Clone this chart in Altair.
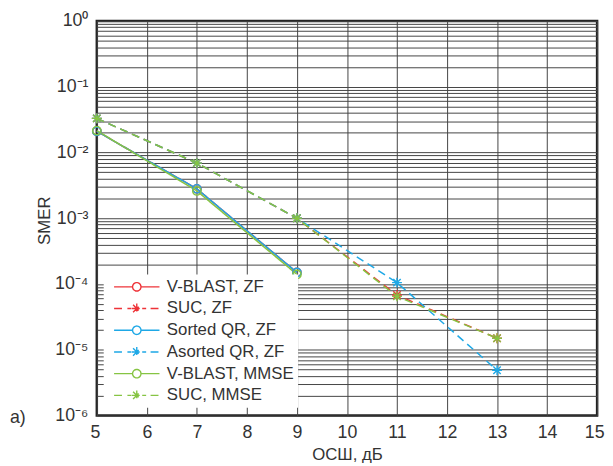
import altair as alt
import pandas as pd

FONT = "Liberation Sans"
TXT = "#333333"

snr = [5, 7, 9, 11, 13]
series_names = ["V-BLAST, ZF", "SUC, ZF", "Sorted QR, ZF", "Asorted QR, ZF",
                "V-BLAST, MMSE", "SUC, MMSE"]
vblast_zf = [0.021, 0.0028, 1.5e-4]
suc_zf = [0.033, 0.0069, 1.0e-3, 6.8e-5, 1.5e-5]
sorted_qr_zf = [0.021, 0.0028, 1.5e-4]
asorted_qr_zf = [0.033, 0.0069, 1.0e-3, 1.05e-4, 4.9e-6]
vblast_mmse = [0.0215, 0.0026, 1.4e-4]
suc_mmse = [0.033, 0.0069, 1.0e-3, 6.5e-5, 1.5e-5]
series_values = [vblast_zf, suc_zf, sorted_qr_zf, asorted_qr_zf, vblast_mmse, suc_mmse]

colors = ["#ee3338", "#ee3338", "#1ea8e6", "#1ea8e6", "#86c443", "#86c443"]
dashes = [[1, 0], [8, 5], [1, 0], [8, 5], [1, 0], [8, 5]]
x_ticks = list(range(5, 16))
y_ticks = [m * 10.0 ** e for e in range(-6, 0) for m in range(1, 10)] + [1.0]
decade_labels = ["10⁰", "10⁻¹", "10⁻²", "10⁻³", "10⁻⁴", "10⁻⁵", "10⁻⁶"]

rows = []
for name, vals in zip(series_names, series_values):
    for x, v in zip(snr, vals):
        rows.append({"series": name, "snr": x, "smer": v})
df = pd.DataFrame(rows)

circle_p = "M0.85,0A0.85,0.85,0,1,1,-0.85,0A0.85,0.85,0,1,1,0.85,0Z"
star_p = "M-1,0L1,0M0,-1L0,1M-0.75,-0.75L0.75,0.75M-0.75,0.75L0.75,-0.75"
leg_circle = "M-4.6,0L-0.85,0M0.85,0L4.6,0" + circle_p
leg_star = "M-4.6,0L-2.8,0M-1.9,0L-1.1,0M1.1,0L1.9,0M2.8,0L4.6,0" + star_p
shape_expr = ("indexof(['SUC, ZF','Asorted QR, ZF','SUC, MMSE'], datum.value) >= 0 ? '"
              + leg_star + "' : '" + leg_circle + "'")

label_expr = ("abs(log(datum.value)/LN10 - round(log(datum.value)/LN10)) < 0.001 ? "
              + str(decade_labels) + "[-round(log(datum.value)/LN10)] : ''")

legend = alt.Legend(
    title=None, orient="none", legendX=7, legendY=257, fillColor="white",
    padding=4, labelFontSize=17, labelFont=FONT, labelColor=TXT,
    symbolSize=100, symbolStrokeWidth=1.4, symbolOffset=21, labelOffset=22,
    rowPadding=4, symbolType=alt.ExprRef(expr=shape_expr), symbolOpacity=1,
)

color = alt.Color("series:N", scale=alt.Scale(domain=series_names, range=colors),
                  sort=series_names, legend=legend)
xenc = alt.X("snr:Q", scale=alt.Scale(domain=[5, 15], nice=False),
             axis=alt.Axis(values=x_ticks, format="d", title="ОСШ, дБ", grid=True,
                           gridColor="#444444", gridWidth=1, ticks=False, domain=False,
                           labelFontSize=18, labelFont=FONT, labelColor=TXT, labelPadding=8,
                           titleFontSize=17, titleFont=FONT, titleFontWeight="normal",
                           titleColor=TXT, titleY=39, titleBaseline="middle",
                           labelFlush=True, labelFlushOffset=7))
yenc = alt.Y("smer:Q", scale=alt.Scale(type="log", domain=[1e-6, 1]),
             axis=alt.Axis(values=y_ticks, labelExpr=label_expr, labelOverlap=False,
                           title="SMER", grid=True, gridColor="#444444", gridWidth=1,
                           ticks=False, domain=False, labelFontSize=18, labelFont=FONT,
                           labelColor=TXT, labelPadding=9, titleFontSize=17, titleFont=FONT,
                           titleFontWeight="normal", titleColor=TXT, titleX=-53, titleY=202,
                           titleBaseline="middle", titleAlign="center", labelFlush=False))

base = alt.Chart(df)
lines = base.mark_line(strokeWidth=1.5).encode(
    x=xenc, y=yenc, color=color,
    strokeDash=alt.StrokeDash("series:N", scale=alt.Scale(domain=series_names, range=dashes),
                              legend=None),
    detail="series:N",
)
pts_circle = base.transform_filter(
    alt.FieldOneOfPredicate(field="series", oneOf=["V-BLAST, ZF", "Sorted QR, ZF", "V-BLAST, MMSE"])
).mark_point(filled=False, size=100, strokeWidth=1.4, shape=circle_p, opacity=1).encode(
    x=xenc, y=yenc, color=color)
pts_star = base.transform_filter(
    alt.FieldOneOfPredicate(field="series", oneOf=["SUC, ZF", "SUC, MMSE", "Asorted QR, ZF"])
).mark_point(filled=False, size=100, strokeWidth=1.4, shape=star_p, opacity=1).encode(
    x=xenc, y=yenc, color=color)

label_a = alt.Chart(pd.DataFrame({"t": ["а)"]})).mark_text(
    fontSize=18, font=FONT, color=TXT, align="center", baseline="middle"
).encode(x=alt.value(-80), y=alt.value(402), text="t:N")

chart = alt.layer(lines, pts_circle, pts_star, label_a).properties(
    width=507, height=400,
    autosize=alt.AutoSizeParams(type="none"),
    padding={"left": 90, "top": 10, "right": 8, "bottom": 48},
).configure_view(stroke="#222222", strokeWidth=2.5)

chart.save("out.html", embed_options={"renderer": "svg", "actions": False})
